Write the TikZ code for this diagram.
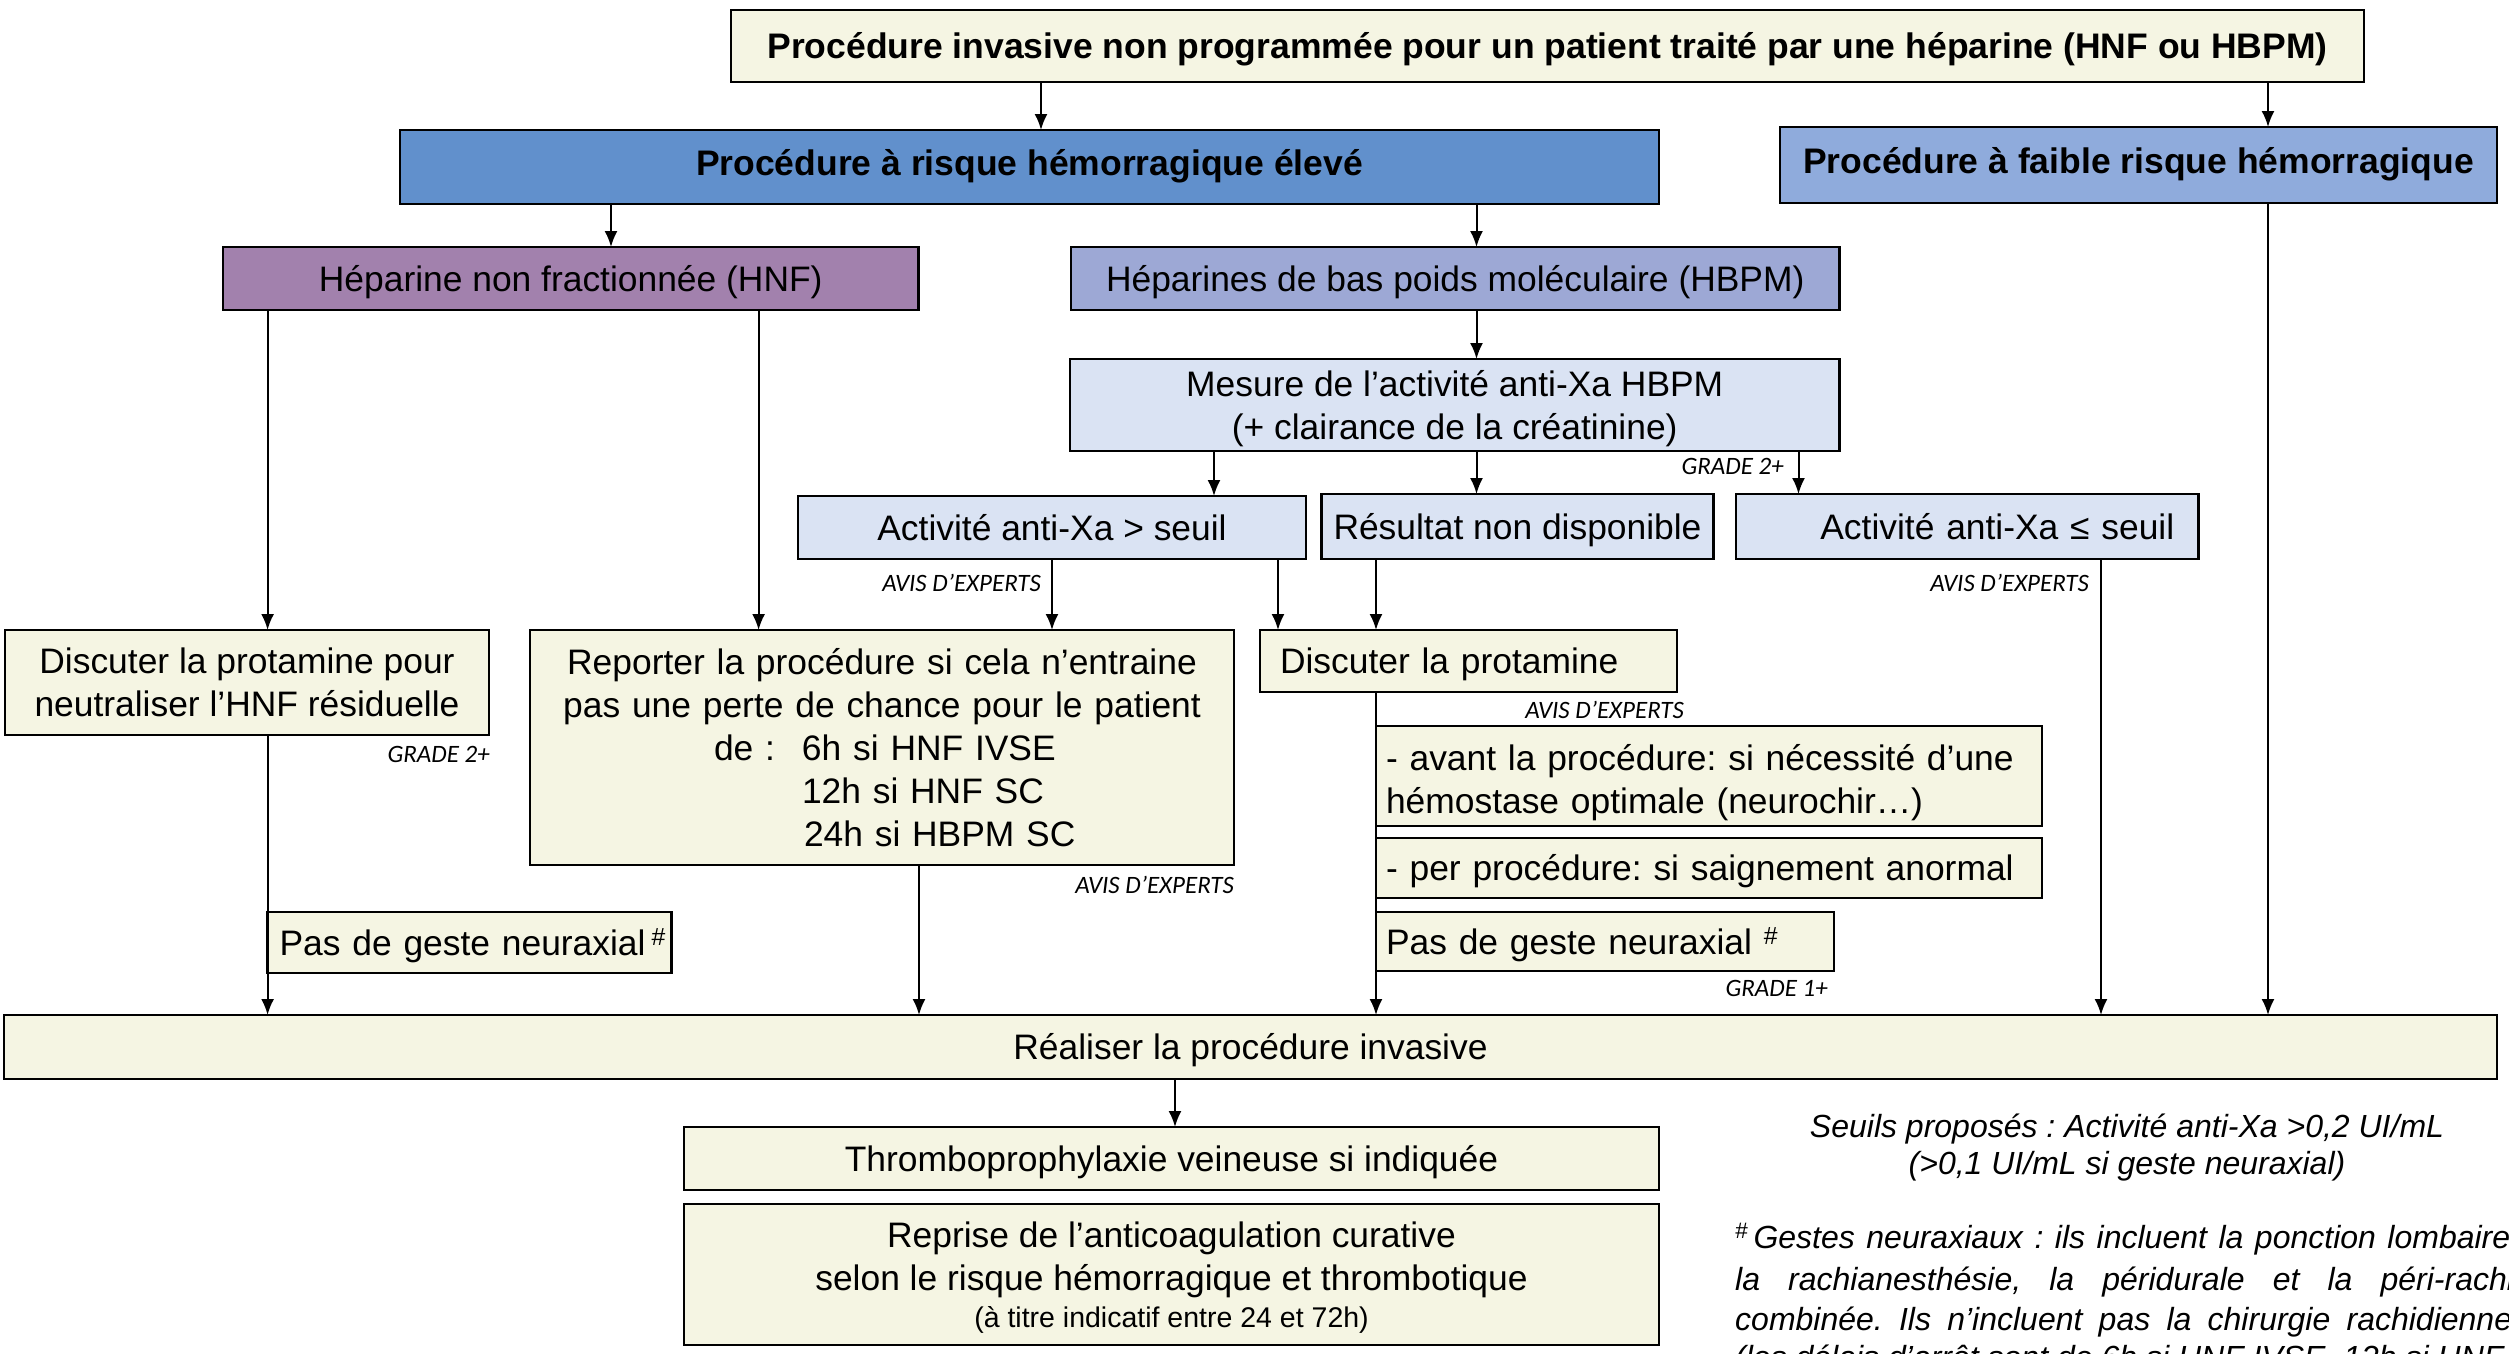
\documentclass[tikz,border=0pt]{standalone}
\usepackage{fontspec}
\setmainfont{Liberation Sans}
\newfontfamily\carl{Carlito}
\usetikzlibrary{arrows.meta}
\frenchspacing
\definecolor{beige}{HTML}{F5F5E3}
\definecolor{hired}{HTML}{6190CC}
\definecolor{lowb}{HTML}{8FABDC}
\definecolor{hnfc}{HTML}{A281AD}
\definecolor{hbpmc}{HTML}{9DA8D5}
\definecolor{lblue}{HTML}{DAE3F3}
\newcommand\topst[1][35]{\rule{0pt}{#1pt}}
\newcommand\botst[1][10]{\rule[-#1pt]{0pt}{#1pt}}
\tikzset{
  box/.style={draw=black, line width=2.6pt, inner sep=0pt, outer sep=0pt, anchor=north west, align=center, font=\fontsize{35.4}{43}\selectfont},
  bbox/.style={font=\bfseries\fontsize{35.5}{43}\selectfont},
  conn/.style={line width=2pt, -{Latex[length=16pt,width=13pt]}},
  lab/.style={font=\carl\itshape\fontsize{25}{28}\selectfont, inner sep=0pt, anchor=east},
  fn/.style={font=\itshape\fontsize{32}{38}\selectfont, inner sep=0pt, anchor=base west},
}
\newcommand\mybox[7][]{\node[box,fill=#7,minimum width={(#5-#3)*1pt},minimum height={(#6-#4)*1pt},#1] (#2) at (#3,#4)}
\begin{document}
\begin{tikzpicture}[x=1pt,y=-1pt]
\useasboundingbox (0,0) rectangle (2509,1354);
% boxes
\mybox[bbox]{top}{731}{10}{2364}{82}{beige}{\topst Procédure invasive non programmée pour un patient traité par une héparine (HNF ou HBPM)\botst};
\mybox[bbox]{high}{400}{130}{1659}{204}{hired}{\topst Procédure à risque hémorragique élevé\botst[18]};
\mybox[bbox]{low}{1780}{127}{2497}{203}{lowb}{\topst Procédure à faible risque hémorragique\botst[18]};
\mybox{hnf}{223}{247}{918.5}{310}{hnfc}{\topst Héparine non fractionnée (HNF)\botst};
\mybox{hbpm}{1071}{247}{1839.5}{310}{hbpmc}{\topst Héparines de bas poids moléculaire (HBPM)\botst};
\mybox{mesure}{1070}{359}{1839.5}{451}{lblue}{\topst Mesure de l’activité anti-Xa HBPM\\(+ clairance de la créatinine)\botst};
\mybox{actsup}{798}{496}{1306}{559}{lblue}{\topst Activité anti-Xa > seuil\botst};
\mybox{result}{1321.5}{494}{1713.5}{559}{lblue}{\topst Résultat non disponible\botst};
\mybox[align=right,inner xsep=24pt,text width=414pt]{actinf}{1736}{494}{2198.5}{559}{lblue}{\topst Activité anti-Xa ≤ seuil\botst};
\mybox{dischnf}{5}{630}{489}{735}{beige}{\topst Discuter la protamine pour\\neutraliser l’HNF résiduelle\botst};
\mybox[text width=704pt]{reporter}{530}{630}{1234}{865}{beige}{\topst Reporter la procédure si cela n’entraine\\pas une perte de chance pour le patient\\
\makebox[704pt][l]{\hspace{184pt}\makebox[88pt][l]{de :}6h si HNF IVSE}\\
\makebox[704pt][l]{\hspace{272pt}12h si HNF SC}\\
\makebox[704pt][l]{\hspace{274pt}24h si HBPM SC}\botst};
\mybox[align=left,inner xsep=20pt,text width=377pt]{discprot}{1260}{630}{1677}{692}{beige}{\topst Discuter la protamine\botst};
\mybox[align=left,inner xsep=10pt,text width=646pt]{avant}{1376}{726}{2042}{826}{beige}{\topst[42]- avant la procédure: si nécessité d’une\\hémostase optimale (neurochir…)\botst};
\mybox[align=left,inner xsep=10pt,text width=646pt]{per}{1376}{838}{2042}{898}{beige}{\topst - per procédure: si saignement anormal\botst};
\mybox[align=left,inner xsep=10pt,text width=438pt]{pasb}{1376}{912}{1834}{971}{beige}{\topst Pas de geste neuraxial \textsuperscript{\#}\botst};
\mybox[align=left,inner xsep=12pt,text width=380pt]{pasa}{267.6}{912}{670}{973}{beige}{\mbox{\topst Pas de geste neuraxial\,\textsuperscript{\#}\botst}};
\mybox{realiser}{4}{1015}{2497}{1079}{beige}{\topst Réaliser la procédure invasive\botst};
\mybox{thrombo}{684}{1127}{1659}{1190}{beige}{\topst Thromboprophylaxie veineuse si indiquée\botst};
\mybox{reprise}{684}{1204}{1659}{1345}{beige}{\topst Reprise de l’anticoagulation curative\\selon le risque hémorragique et thrombotique\\[-6pt]\fontsize{28.5}{36}\selectfont (à titre indicatif entre 24 et 72h)\botst};
% columns
\coordinate (cA) at (1041,0);
\coordinate (cB) at (2268,0);
\coordinate (cC) at (611,0);
\coordinate (cD) at (1476.5,0);
\coordinate (cE) at (267.6,0);
\coordinate (cF) at (758.6,0);
\coordinate (cG) at (1214,0);
\coordinate (cH) at (1798.5,0);
\coordinate (cI) at (1052,0);
\coordinate (cJ) at (1278,0);
\coordinate (cK) at (1376,0);
\coordinate (cL) at (919,0);
\coordinate (cM) at (2101,0);
\coordinate (cN) at (1175,0);
% connectors
\draw[conn] (top.south -| cA) -- (high.north -| cA);
\draw[conn] (top.south -| cB) -- (low.north -| cB);
\draw[conn] (high.south -| cC) -- (hnf.north -| cC);
\draw[conn] (high.south -| cD) -- (hbpm.north -| cD);
\draw[conn] (hbpm.south -| cD) -- (mesure.north -| cD);
\draw[conn] (hnf.south -| cE) -- (dischnf.north -| cE);
\draw[conn] (hnf.south -| cF) -- (reporter.north -| cF);
\draw[conn] (mesure.south -| cG) -- (actsup.north -| cG);
\draw[conn] (mesure.south -| cD) -- (result.north -| cD);
\draw[conn] (mesure.south -| cH) -- (actinf.north -| cH);
\draw[conn] (actsup.south -| cI) -- (reporter.north -| cI);
\draw[conn] (actsup.south -| cJ) -- (discprot.north -| cJ);
\draw[conn] (result.south -| cK) -- (discprot.north -| cK);
\draw[conn] (dischnf.south -| cE) -- (realiser.north -| cE);
\draw[conn] (reporter.south -| cL) -- (realiser.north -| cL);
\draw[conn] (discprot.south -| cK) -- (realiser.north -| cK);
\draw[conn] (actinf.south -| cM) -- (realiser.north -| cM);
\draw[conn] (low.south -| cB) -- (realiser.north -| cB);
\draw[conn] (realiser.south -| cN) -- (thrombo.north -| cN);
% labels
\node[lab] (g1) at (1784,466) {GRADE 2+};
\node[lab] (a1) at (1041,583) {AVIS D’EXPERTS};
\node[lab] (a2) at (1684,710) {AVIS D’EXPERTS};
\node[lab] (a3) at (2089,583) {AVIS D’EXPERTS};
\node[lab] (g2) at (490,754) {GRADE 2+};
\node[lab] (a4) at (1234,885) {AVIS D’EXPERTS};
\node[lab] (g3) at (1828,988) {GRADE 1+};
% notes
\node[font=\itshape\fontsize{32}{37}\selectfont, align=center, inner sep=0pt] (seuils) at (2127,1148) {Seuils proposés : Activité anti-Xa >0,2 UI/mL\\(>0,1 UI/mL si geste neuraxial)};
\node[fn] (f1) at (1735,1248) {\makebox[784pt][s]{\textsuperscript{\#}\,Gestes neuraxiaux : ils incluent la ponction lombaire,}};
\node[fn] (f2) at (1735,1290) {\makebox[875pt][s]{la rachianesthésie, la péridurale et la péri-rachidienne}};
\node[fn] (f3) at (1735,1330) {\makebox[777pt][s]{combinée. Ils n’incluent pas la chirurgie rachidienne}};
\node[fn] (f4) at (1735,1368) {(les délais d’arrêt sont de 6h si HNF IVSE, 12h si HNF SC};
\end{tikzpicture}
\end{document}
